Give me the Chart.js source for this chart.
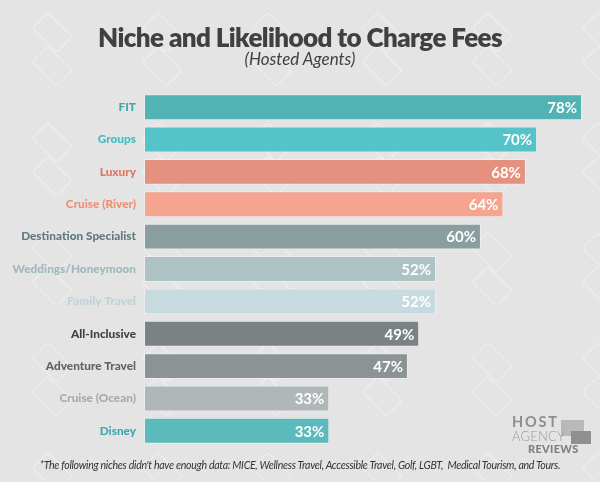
<!DOCTYPE html>
<html>
<head>
<meta charset="utf-8">
<script src="https://cdn.jsdelivr.net/npm/chart.js@4"></script>
<style>
  html, body { margin: 0; padding: 0; }
  body { width: 600px; height: 482px; background-color: #e4e4e4; position: relative; overflow: hidden; font-family: Lato, sans-serif; }
  #fundo { position: absolute; left: 0; top: 0; width: 600px; height: 482px;
    background-image: url("data:image/svg+xml;utf8,<svg xmlns='http://www.w3.org/2000/svg' width='110' height='110'><g fill='none' stroke='%23f2f2f2' stroke-width='1' transform='rotate(45 55 55)'><rect x='20' y='30' width='34' height='22' rx='3'/><rect x='44' y='54' width='34' height='22' rx='3'/></g></svg>");
    opacity: 0.8; }
  #wrap { position: absolute; left: 0; top: 0; width: 600px; height: 482px; }
  .titulo { position: absolute; left: 0; width: 600px; text-align: center; color: #404040; }
  #t1 { top: 21px; font-size: 26px; font-weight: 800; letter-spacing: -0.6px; }
  #t2 { top: 48px; font-size: 17px; font-style: italic; }
  #nota { position: absolute; left: 0; width: 600px; top: 459px; text-align: center; font-size: 10.6px; font-style: italic; color: #333; letter-spacing: -0.3px; }
  #logo { position: absolute; left: 512px; top: 415px; width: 80px; line-height: 1; }
  #logo .h { font-size: 14.5px; font-weight: 700; color: #8e8e8e; letter-spacing: 1.8px; }
  #logo .a { font-size: 13px; font-weight: 300; color: #9c9c9c; letter-spacing: 0.2px; }
  #logo .r { font-size: 11px; font-weight: 900; color: #7e7e7e; margin-left: 16px; letter-spacing: 0.3px; }
  .bolha { position: absolute; background: #b9b9b9; }
</style>
</head>
<body>
<div id="fundo"></div>
<div id="wrap"><canvas id="grafico" width="600" height="482"></canvas></div>
<div class="titulo" id="t1">Niche and Likelihood to Charge Fees</div>
<div class="titulo" id="t2">(Hosted Agents)</div>
<div class="bolha" style="left:561px;top:420px;width:23px;height:16px;"></div>
<div class="bolha" style="left:571px;top:431px;width:20px;height:13px;background:#8f8f8f;"></div>
<div id="logo">
  <div class="h">HOST</div>
  <div class="a">AGENCY</div>
  <div class="r">REVIEWS</div>
</div>
<div id="nota">*The following niches didn't have enough data: MICE, Wellness Travel, Accessible Travel, Golf, LGBT,&nbsp; Medical Tourism, and Tours.</div>
<script>
const nichos = ['FIT', 'Groups', 'Luxury', 'Cruise (River)', 'Destination Specialist', 'Weddings/Honeymoon', 'Family Travel', 'All-Inclusive', 'Adventure Travel', 'Cruise (Ocean)', 'Disney'];
const porcentagens = [78, 70, 68, 64, 60, 52, 52, 49, 47, 33, 33];
const coresBarras = ['#52b3b5', '#55c4c8', '#e5917f', '#f4a48f', '#8a9ea0', '#adc3c6', '#c7dadf', '#7a8284', '#8c9394', '#b0b7b9', '#5bbabb'];
const coresRotulos = ['#3fa8aa', '#3fbdc3', '#e0765f', '#f08e73', '#627a7e', '#9fb8bc', '#bcd4d8', '#3c4345', '#5c6466', '#a3acae', '#3aa9ad'];

// escreve o valor dentro do fim de cada barra
const rotuloValor = {
  id: 'rotuloValor',
  afterDatasetsDraw(chart) {
    const ctx = chart.ctx;
    const meta = chart.getDatasetMeta(0);
    ctx.save();
    ctx.font = 'bold 15px Lato, sans-serif';
    ctx.fillStyle = '#ffffff';
    ctx.textAlign = 'right';
    ctx.textBaseline = 'middle';
    meta.data.forEach((barra, i) => {
      ctx.fillText(porcentagens[i] + '%', barra.x - 5, barra.y + 1);
    });
    ctx.restore();
  }
};

new Chart(document.getElementById('grafico'), {
  type: 'bar',
  data: {
    labels: nichos,
    datasets: [{
      data: porcentagens,
      backgroundColor: coresBarras,
      borderColor: 'rgba(255,255,255,0.35)',
      borderWidth: 1,
      borderSkipped: false,
      categoryPercentage: 1,
      barPercentage: 0.8
    }]
  },
  options: {
    indexAxis: 'y',
    responsive: false,
    animation: false,
    layout: { padding: { top: 91, bottom: 35, left: 0, right: 0 } },
    plugins: {
      legend: { display: false },
      tooltip: { enabled: false }
    },
    scales: {
      x: { display: false, min: 0, max: 81.2 },
      y: {
        grid: { display: false },
        border: { display: false },
        afterFit(scale) { scale.width = 144; },
        ticks: {
          padding: 0,
          font: { family: 'Lato, sans-serif', weight: '900', size: 11.8 },
          color: (c) => coresRotulos[c.index]
        }
      }
    }
  },
  plugins: [rotuloValor]
});
</script>
</body>
</html>
